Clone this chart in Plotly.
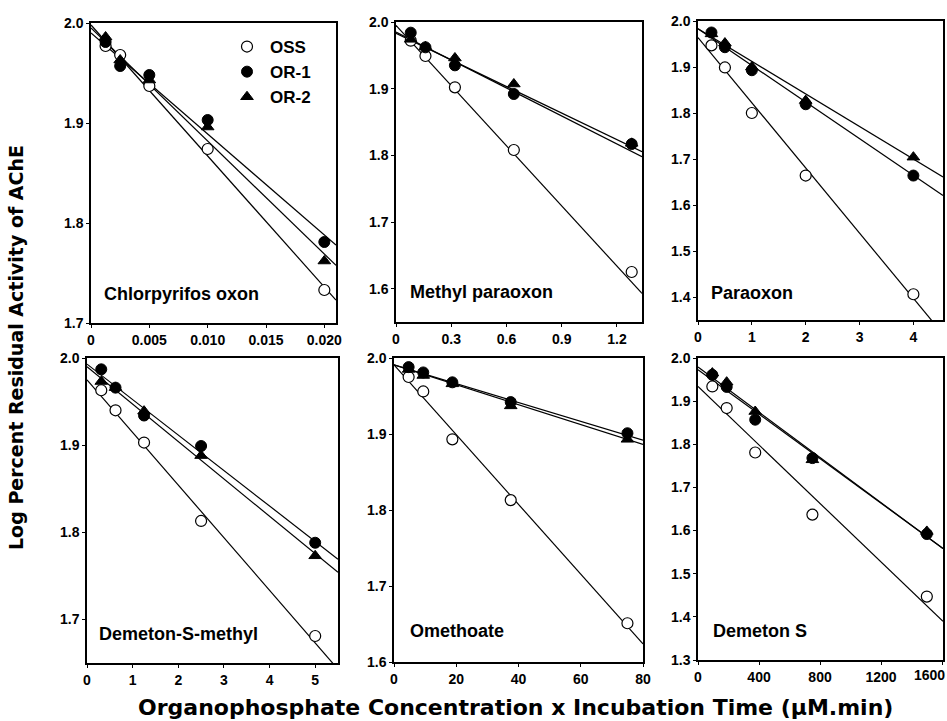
import plotly.graph_objects as go

# ---------------- data ----------------
panel_names = ["Chlorpyrifos oxon", "Methyl paraoxon", "Paraoxon",
               "Demeton-S-methyl", "Omethoate", "Demeton S"]
series_names = ["OSS", "OR-1", "OR-2"]

chlor_x = [0.00125, 0.0025, 0.005, 0.01, 0.02]
chlor_oss = [1.977, 1.968, 1.937, 1.874, 1.733]
chlor_or1 = [1.981, 1.957, 1.948, 1.903, 1.781]
chlor_or2 = [1.986, 1.963, 1.943, 1.896, 1.762]

mpar_x = [0.08, 0.16, 0.32, 0.64, 1.28]
mpar_oss = [1.972, 1.949, 1.902, 1.808, 1.625]
mpar_or1 = [1.984, 1.962, 1.935, 1.892, 1.817]
mpar_or2 = [1.974, 1.963, 1.946, 1.907, 1.818]

par_x = [0.25, 0.5, 1, 2, 4]
par_oss = [1.947, 1.899, 1.800, 1.664, 1.406]
par_or1 = [1.975, 1.943, 1.893, 1.819, 1.664]
par_or2 = [1.972, 1.952, 1.900, 1.827, 1.704]

dsm_x = [0.3125, 0.625, 1.25, 2.5, 5]
dsm_oss = [1.963, 1.940, 1.903, 1.813, 1.681]
dsm_or1 = [1.987, 1.966, 1.934, 1.899, 1.788]
dsm_or2 = [1.973, 1.966, 1.939, 1.888, 1.773]

ome_x = [4.7, 9.4, 18.75, 37.5, 75]
ome_oss = [1.975, 1.956, 1.893, 1.813, 1.651]
ome_or1 = [1.988, 1.981, 1.968, 1.942, 1.901]
ome_or2 = [1.985, 1.977, 1.966, 1.937, 1.893]

dms_x = [94, 188, 375, 750, 1500]
dms_oss = [1.934, 1.884, 1.781, 1.637, 1.447]
dms_or1 = [1.961, 1.933, 1.857, 1.768, 1.592]
dms_or2 = [1.965, 1.944, 1.876, 1.764, 1.598]

# regression lines: (intercept, slope) for OSS, OR-1, OR-2
chlor_fit = [(1.998, -13.1), (1.990, -10.1), (1.995, -11.3)]
mpar_fit = [(1.995, -0.301), (1.985, -0.140), (1.983, -0.133)]
par_fit = [(1.964, -0.1417), (1.983, -0.0796), (1.983, -0.0708)]
dsm_fit = [(1.975, -0.0604), (1.993, -0.0407), (1.990, -0.0429)]
ome_fit = [(1.991, -0.00459), (1.991, -0.00124), (1.991, -0.00131)]
dms_fit = [(1.934, -0.000339), (1.979, -0.000262), (1.973, -0.000258)]

x_ranges = [[0, 0.021], [0, 1.336], [0, 4.55], [0, 5.5], [0, 80], [0, 1606]]
y_ranges = [[1.7, 2.0], [1.55, 2.0], [1.35, 2.0], [1.65, 2.0], [1.6, 2.0], [1.3, 2.0]]
x_ticks = [[0, 0.005, 0.010, 0.015, 0.020], [0, 0.3, 0.6, 0.9, 1.2], [0, 1, 2, 3, 4],
           [0, 1, 2, 3, 4, 5], [0, 20, 40, 60, 80], [0, 400, 800, 1200, 1600]]
x_ticktext = [["0", "0.005", "0.010", "0.015", "0.020"], ["0", "0.3", "0.6", "0.9", "1.2"],
              ["0", "1", "2", "3", "4"], ["0", "1", "2", "3", "4", "5"],
              ["0", "20", "40", "60", "80"], ["0", "400", "800", "1200", "1600"]]
y_ticks = [[1.7, 1.8, 1.9, 2.0], [1.6, 1.7, 1.8, 1.9, 2.0],
           [1.4, 1.5, 1.6, 1.7, 1.8, 1.9, 2.0], [1.7, 1.8, 1.9, 2.0],
           [1.6, 1.7, 1.8, 1.9, 2.0], [1.3, 1.4, 1.5, 1.6, 1.7, 1.8, 1.9, 2.0]]

panels_x = [chlor_x, mpar_x, par_x, dsm_x, ome_x, dms_x]
panels_y = [[chlor_oss, chlor_or1, chlor_or2], [mpar_oss, mpar_or1, mpar_or2],
            [par_oss, par_or1, par_or2], [dsm_oss, dsm_or1, dsm_or2],
            [ome_oss, ome_or1, ome_or2], [dms_oss, dms_or1, dms_or2]]
panels_fit = [chlor_fit, mpar_fit, par_fit, dsm_fit, ome_fit, dms_fit]

# ---------------- layout geometry (pixels) ----------------
W, H = 947, 721
boxes = [(91, 336, 23, 323), (396, 642, 22, 322), (698, 943, 21, 320),
         (87, 338, 358, 663), (394, 643, 358, 662), (698, 943, 358, 660)]
label_pos = [(103, 294), (409, 292), (710, 293), (98, 634), (409, 631), (712, 631)]

FONT = "Liberation Sans, Arial, Helvetica, sans-serif"
TFONT = "DejaVu Sans, Liberation Sans, Arial, sans-serif"
TICK = dict(size=14, color="black", family=FONT, weight="bold")

marker_styles = [
    dict(symbol="circle", size=11, color="white", line=dict(color="black", width=1.2)),
    dict(symbol="circle", size=11, color="black", line=dict(color="black", width=1)),
    dict(symbol="triangle-up", size=11, color="black", line=dict(color="black", width=1)),
]

fig = go.Figure()
layout = {}
annotations = []

for i in range(6):
    ax = "" if i == 0 else str(i + 1)
    xref, yref = "x" + ax, "y" + ax
    x0, x1, y0, y1 = boxes[i]
    xmin, xmax = x_ranges[i]
    for s in range(3):
        b, m = panels_fit[i][s]
        fig.add_trace(go.Scatter(
            x=[xmin, xmax], y=[b + m * xmin, b + m * xmax], mode="lines",
            line=dict(color="black", width=1.2), xaxis=xref, yaxis=yref,
            showlegend=False, hoverinfo="skip", cliponaxis=True))
    for s in range(3):
        fig.add_trace(go.Scatter(
            x=panels_x[i], y=panels_y[i][s], mode="markers", name=series_names[s],
            marker=marker_styles[s], xaxis=xref, yaxis=yref,
            showlegend=(i == 0), legendrank=s + 1))
    ttext = list(x_ticktext[i])
    if i == 5:
        # the last label would run past the right edge of the page:
        # draw it right-aligned near its tick so it stays whole
        edge_label = ttext[-1]
        ttext[-1] = ""
        annotations.append(dict(
            text=edge_label, x=x_ticks[i][-1], xref=xref, y=0, yref=yref + " domain",
            xanchor="right", yanchor="top", yshift=-6, xshift=4, showarrow=False,
            borderpad=0, font=TICK))
    layout["xaxis" + ax] = dict(
        domain=[x0 / W, x1 / W], range=x_ranges[i], anchor=yref, automargin=False,
        tickvals=x_ticks[i], ticktext=ttext, ticks="outside", ticklen=3,
        tickwidth=1, tickcolor="black", showline=True, linecolor="black",
        linewidth=1.5, mirror=True, showgrid=False, zeroline=False,
        tickfont=TICK)
    layout["yaxis" + ax] = dict(
        domain=[1 - y1 / H, 1 - y0 / H], range=y_ranges[i], anchor=xref, automargin=False,
        tickvals=y_ticks[i], tickformat=".1f", ticks="outside", ticklen=3,
        tickwidth=1, tickcolor="black", showline=True, linecolor="black",
        linewidth=1.5, mirror=True, showgrid=False, zeroline=False,
        tickfont=TICK)
    lx, ly = label_pos[i]
    annotations.append(dict(
        text=panel_names[i], x=lx / W, y=1 - ly / H, xref="paper", yref="paper",
        xanchor="left", yanchor="middle", showarrow=False, borderpad=0,
        font=dict(size=18, color="black", family=FONT, weight="bold")))

annotations.append(dict(
    text="Log Percent Residual Activity of AChE", x=16 / W, y=1 - 348 / H,
    xref="paper", yref="paper", textangle=-90, showarrow=False,
    xanchor="center", yanchor="middle",
    font=dict(size=19, color="black", family=TFONT, weight="bold")))
annotations.append(dict(
    text="Organophosphate Concentration x Incubation Time (\u03bcM.min)",
    x=515 / W, y=1 - 707 / H, xref="paper", yref="paper", showarrow=False,
    xanchor="center", yanchor="middle",
    font=dict(size=22, color="black", family=TFONT, weight="bold")))

fig.update_layout(
    template="none",
    width=W, height=H, margin=dict(l=0, r=0, t=0, b=0, pad=0, autoexpand=False),
    paper_bgcolor="white", plot_bgcolor="white",
    font=dict(family=FONT, color="black", weight="bold"),
    legend=dict(x=224 / W, y=1 - 29 / H, xanchor="left", yanchor="top",
                bgcolor="rgba(0,0,0,0)",
                font=dict(size=17, color="black", family=FONT, weight="bold"),
                tracegroupgap=0, itemwidth=36),
    annotations=annotations,
    **layout)

fig.write_html(
    "out.html", config={"displayModeBar": False},
    post_script=("document.documentElement.style.margin='0';"
                 "document.body.style.margin='0';document.body.style.padding='0';"
                 "document.documentElement.style.overflow='hidden';"
                 "document.body.style.overflow='hidden';"))
